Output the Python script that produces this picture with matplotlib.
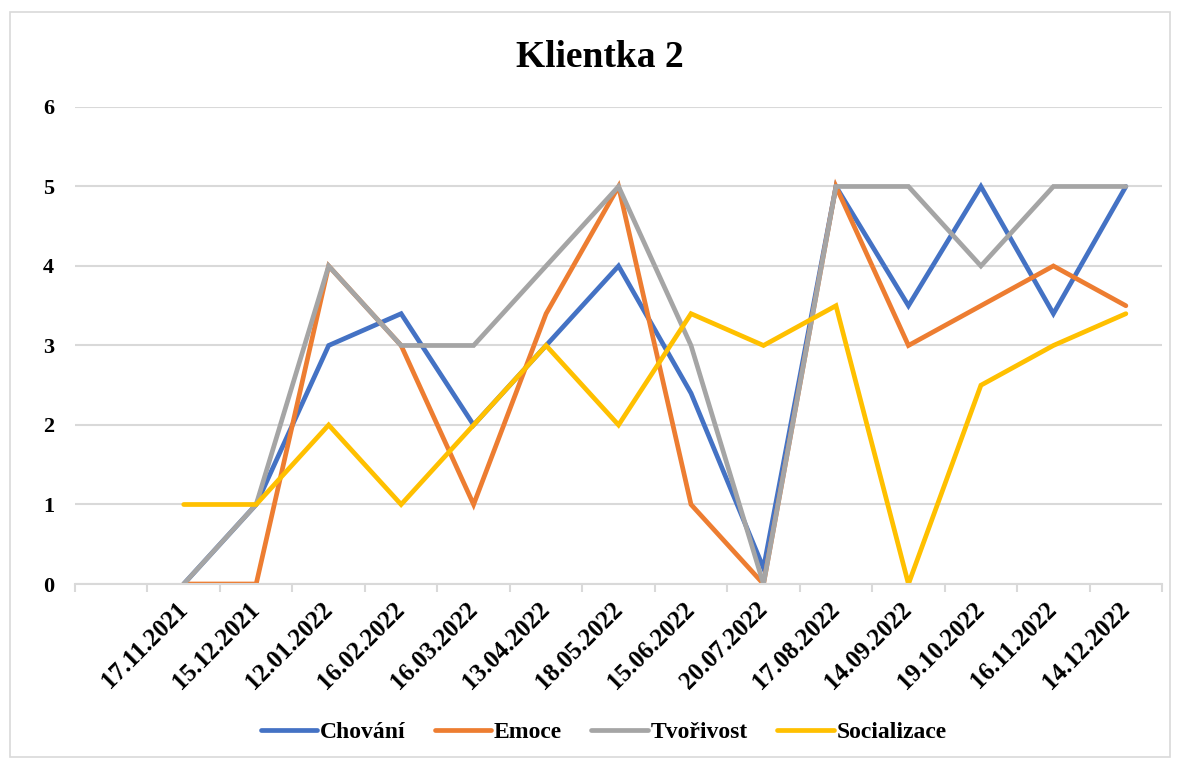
import matplotlib.pyplot as plt
from matplotlib.patches import Rectangle
from matplotlib.ticker import FixedLocator

plt.rcParams['font.family'] = ['Liberation Serif', 'DejaVu Serif']
plt.rcParams['font.weight'] = 'bold'

# first category slot is empty in the original sheet
dates = ['', '17.11.2021', '15.12.2021', '12.01.2022', '16.02.2022', '16.03.2022',
         '13.04.2022', '18.05.2022', '15.06.2022', '20.07.2022', '17.08.2022',
         '14.09.2022', '19.10.2022', '16.11.2022', '14.12.2022']

chovani = [0, 1, 3, 3.4, 2, 3, 4, 2.4, 0.2, 5, 3.5, 5, 3.4, 5]
emoce = [0, 0, 4, 3, 1, 3.4, 5, 1, 0, 5, 3, 3.5, 4, 3.5]
tvorivost = [0, 1, 4, 3, 3, 4, 5, 3, 0, 5, 5, 4, 5, 5]
socializace = [1, 1, 2, 1, 2, 3, 2, 3.4, 3, 3.5, 0, 2.5, 3, 3.4]

series = [('Chování', chovani, '#4472C4'),
          ('Emoce', emoce, '#ED7D31'),
          ('Tvořivost', tvorivost, '#A5A5A5'),
          ('Socializace', socializace, '#FFC000')]

fig = plt.figure(figsize=(11.81, 7.63), dpi=100)
ax = fig.add_axes([0.0635, 0.2346, 0.9205, 0.6252])

xs = list(range(1, len(dates)))
for name, vals, col in series:
    ax.plot(xs, vals, color=col, lw=3.4, label=name,
            solid_capstyle='round', solid_joinstyle='miter')

ax.set_xlim(-0.5, len(dates) - 0.5)
ax.set_ylim(0, 6)
ax.set_yticks(range(0, 7))
ax.grid(axis='y', color='#D9D9D9', lw=1.5)
ax.set_axisbelow(True)

ax.set_xticks(range(len(dates)))
ax.set_xticklabels(dates, rotation=45, ha='right', va='center',
                   rotation_mode='anchor', fontsize=18, fontweight='bold')
ax.xaxis.set_minor_locator(FixedLocator([i - 0.5 for i in range(len(dates) + 1)]))
ax.tick_params(axis='x', which='major', length=0, pad=16)
ax.tick_params(axis='x', which='minor', length=6, width=1.5, color='#D9D9D9')
ax.tick_params(axis='y', length=0, pad=15, labelsize=16)
for lab in ax.get_yticklabels():
    lab.set_fontweight('bold')

for side in ['top', 'right', 'left']:
    ax.spines[side].set_visible(False)
ax.spines['bottom'].set_color('#D9D9D9')
ax.spines['bottom'].set_linewidth(1.5)

fig.text(0.508, 0.925, 'Klientka 2', ha='center', va='center',
         fontsize=27, fontweight='bold')

fig.legend(loc='center', bbox_to_anchor=(0.511, 0.040), ncol=4, frameon=False,
           handlelength=2.4, handletextpad=0.1, columnspacing=1.25,
           prop={'weight': 'bold', 'size': 17})

fig.patches.append(Rectangle((10 / 1181, 6 / 763), 1160 / 1181, 745 / 763,
                             transform=fig.transFigure, fill=False,
                             edgecolor='#D9D9D9', lw=1.2))

fig.savefig('out.png', dpi=100)
